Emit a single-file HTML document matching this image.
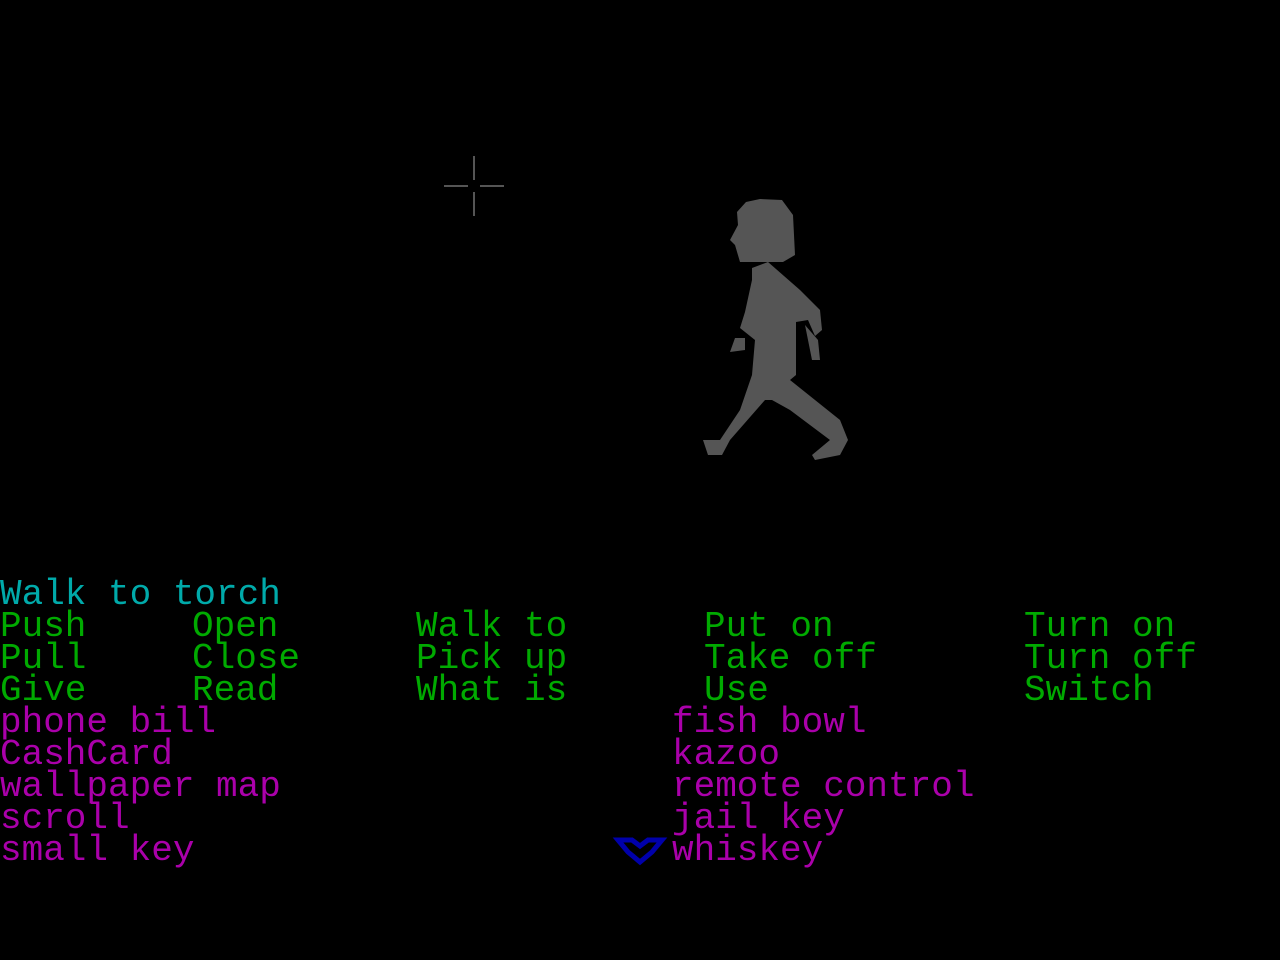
<!DOCTYPE html>
<html><head><meta charset="utf-8"><style>
html,body{margin:0;padding:0;background:#000;width:1280px;height:960px;overflow:hidden}
.t{position:absolute;font-family:"Liberation Mono",monospace;font-size:36px;line-height:32px;white-space:pre;letter-spacing:0px}
.c{color:#00aaaa}.g{color:#00aa00}.m{color:#aa00aa}
</style></head><body>
<svg width="1280" height="960" style="position:absolute;left:0;top:0">
<g fill="#555">
<rect x="444" y="185" width="24" height="2"/><rect x="480" y="185" width="24" height="2"/>
<rect x="473" y="156" width="2" height="24"/><rect x="473" y="192" width="2" height="24"/>
<polygon points="737,212 746,202 760,199 782,200 793,215 795,255 783,262 740,262 735,245 730,240 738,225"/>
<polygon points="752,268 768,262 800,290 820,310 822,330 815,336 808,320 796,322 796,375 790,380 840,420 848,440 840,455 815,460 812,455 830,440 790,410 772,400 765,400 730,440 722,455 708,455 703,440 720,440 740,410 752,375 755,340 740,328 745,312 752,280"/>
<polygon points="805,325 818,340 820,360 812,360 808,340"/>
<polygon points="735,338 745,338 745,350 730,352"/>
</g>
<polygon points="618,840 632,840 640,846 648,840 662,840 652,852 640,862 628,852" fill="none" stroke="#0000aa" stroke-width="5"/>
</svg>
<div class="t c" style="left:0;top:579px">Walk to torch</div>
<div class="t g" style="left:0;top:611px">Push<br>Pull<br>Give</div>
<div class="t g" style="left:192px;top:611px">Open<br>Close<br>Read</div>
<div class="t g" style="left:416px;top:611px">Walk to<br>Pick up<br>What is</div>
<div class="t g" style="left:704px;top:611px">Put on<br>Take off<br>Use</div>
<div class="t g" style="left:1024px;top:611px">Turn on<br>Turn off<br>Switch</div>
<div class="t m" style="left:0;top:707px">phone bill<br>CashCard<br>wallpaper map<br>scroll<br>small key</div>
<div class="t m" style="left:672px;top:707px">fish bowl<br>kazoo<br>remote control<br>jail key<br>whiskey</div>
</body></html>
